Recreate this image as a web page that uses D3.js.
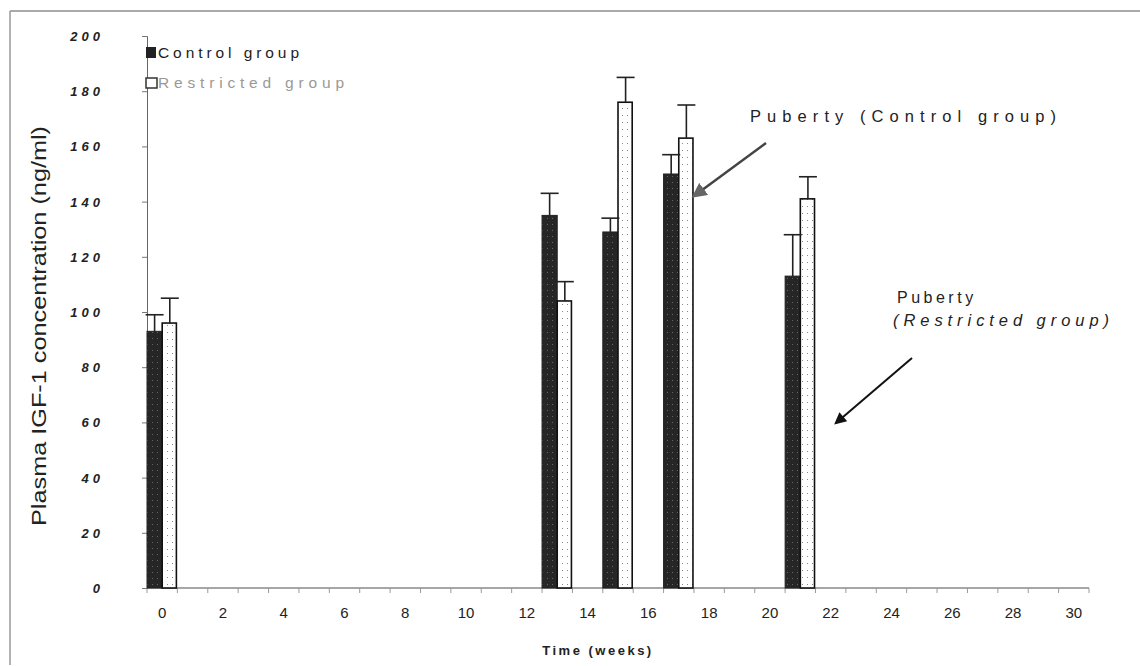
<!DOCTYPE html>
<html>
<head>
<meta charset="utf-8">
<script src="https://cdn.jsdelivr.net/npm/d3@7"></script>
<style>
  body { margin: 0; background: #fff; }
  svg { display: block; font-family: Arial, "Liberation Sans", sans-serif; }
</style>
</head>
<body>
<div id="chart"></div>
<script>
// weeks where IGF-1 was sampled
var weeks = [0, 13, 15, 17, 21];
var controlMean = [93, 135, 129, 150, 113];
var controlErr = [6, 8, 5, 7, 15];
var restrictedMean = [96, 104, 176, 163, 141];
var restrictedErr = [9, 7, 9, 12, 8];

var yTicks = [0, 20, 40, 60, 80, 100, 120, 140, 160, 180, 200];
var xLabels = d3.range(0, 31, 2);
var seriesNames = ['Control group', 'Restricted group'];

var width = 1140, height = 666;

var svg = d3.select('#chart').append('svg')
    .attr('width', width).attr('height', height);

var defs = svg.append('defs');
var pDark = defs.append('pattern').attr('id', 'dots-dark')
    .attr('width', 5).attr('height', 6).attr('patternUnits', 'userSpaceOnUse');
pDark.append('rect').attr('width', 5).attr('height', 6).attr('fill', '#262626');
pDark.append('rect').attr('x', 2).attr('y', 2).attr('width', 1).attr('height', 1).attr('fill', '#666');
var pLight = defs.append('pattern').attr('id', 'dots-light')
    .attr('width', 5).attr('height', 7).attr('patternUnits', 'userSpaceOnUse');
pLight.append('rect').attr('width', 5).attr('height', 7).attr('fill', '#fff');
pLight.append('rect').attr('x', 2).attr('y', 3).attr('width', 1).attr('height', 1).attr('fill', '#888');

// scanned page frame
svg.append('line').attr('x1', 10).attr('x2', width).attr('y1', 11).attr('y2', 11)
   .attr('stroke', '#aaa').attr('stroke-width', 2);
svg.append('line').attr('x1', 10).attr('x2', 10).attr('y1', 11).attr('y2', 665)
   .attr('stroke', '#999').attr('stroke-width', 1.5);

var x = d3.scaleBand().domain(d3.range(0, 31)).range([147, 1089]);
var y = d3.scaleLinear().domain([0, 200]).range([588, 36]);
var bw = x.bandwidth();

// y axis
var yAxis = svg.append('g').attr('transform', 'translate(147,0)')
    .call(d3.axisLeft(y).tickValues(yTicks).tickSize(5).tickFormat(''));
yAxis.select('.domain').attr('stroke', '#666');
yAxis.selectAll('.tick line').attr('stroke', '#777');
svg.append('g').selectAll('text').data(yTicks).enter().append('text')
    .attr('x', 104).attr('y', function(d) { return y(d) + 5; })
    .attr('text-anchor', 'end')
    .attr('font-size', 13).attr('font-style', 'italic').attr('font-weight', 'bold')
    .attr('letter-spacing', 4).attr('fill', '#222')
    .text(function(d) { return d; });

// x axis: category axis with tick marks on band edges
var xAxis = svg.append('g').attr('transform', 'translate(0,588)');
xAxis.append('line').attr('x1', 147).attr('x2', 1089).attr('stroke', '#888').attr('stroke-width', 1.5);
xAxis.selectAll('line.tk').data(d3.range(0, 32)).enter().append('line').attr('class', 'tk')
    .attr('x1', function(d) { return 147 + d * bw; })
    .attr('x2', function(d) { return 147 + d * bw; })
    .attr('y1', 0).attr('y2', 5).attr('stroke', '#999');
xAxis.selectAll('text').data(xLabels).enter().append('text')
    .attr('x', function(d) { return x(d) + bw / 2; })
    .attr('y', 30)
    .attr('text-anchor', 'middle').attr('font-size', 15).attr('fill', '#222')
    .text(function(d) { return d; });

// bars
var bars = svg.append('g');
weeks.forEach(function(w, i) {
    var x0 = x(w);
    var half = bw / 2;
    bars.append('rect')
        .attr('x', x0).attr('y', y(controlMean[i]))
        .attr('width', half).attr('height', y(0) - y(controlMean[i]))
        .attr('fill', 'url(#dots-dark)').attr('stroke', '#222').attr('stroke-width', 1);
    bars.append('rect')
        .attr('x', x0 + half).attr('y', y(restrictedMean[i]))
        .attr('width', half - 1).attr('height', y(0) - y(restrictedMean[i]))
        .attr('fill', 'url(#dots-light)').attr('stroke', '#111').attr('stroke-width', 1.6);

    // upward error bars
    [[x0 + half / 2, controlMean[i], controlErr[i]],
     [x0 + half * 1.5, restrictedMean[i], restrictedErr[i]]].forEach(function(e) {
        bars.append('line').attr('x1', e[0]).attr('x2', e[0])
            .attr('y1', y(e[1])).attr('y2', y(e[1] + e[2]))
            .attr('stroke', '#222').attr('stroke-width', 1.6);
        bars.append('line').attr('x1', e[0] - 9).attr('x2', e[0] + 9)
            .attr('y1', y(e[1] + e[2])).attr('y2', y(e[1] + e[2]))
            .attr('stroke', '#222').attr('stroke-width', 1.6);
    });
});

// legend
var legend = svg.append('g');
legend.append('rect').attr('x', 146).attr('y', 47).attr('width', 10).attr('height', 11)
    .attr('fill', '#222');
legend.append('rect').attr('x', 146).attr('y', 78).attr('width', 11).attr('height', 10)
    .attr('fill', '#fff').attr('stroke', '#333').attr('stroke-width', 1.5);
legend.selectAll('text').data(seriesNames).enter().append('text')
    .attr('x', 158).attr('y', function(d, i) { return 58 + i * 30; })
    .attr('font-size', 15.5)
    .attr('textLength', function(d, i) { return i === 0 ? 141 : 186; })
    .attr('lengthAdjust', 'spacing')
    .attr('fill', function(d, i) { return i === 0 ? '#222' : '#999'; })
    .text(function(d) { return d; });

// axis titles
svg.append('text')
    .attr('transform', 'translate(46,326) rotate(-90)')
    .attr('text-anchor', 'middle').attr('font-size', 20).attr('fill', '#222')
    .attr('textLength', 400).attr('lengthAdjust', 'spacingAndGlyphs')
    .text('Plasma IGF-1 concentration (ng/ml)');
svg.append('text')
    .attr('x', 598).attr('y', 655).attr('text-anchor', 'middle')
    .attr('font-size', 13).attr('font-weight', 'bold').attr('letter-spacing', 2.5)
    .attr('fill', '#222')
    .text('Time (weeks)');

// annotations
defs.append('marker').attr('id', 'arrow-grey').attr('viewBox', '0 0 10 10')
    .attr('refX', 8).attr('refY', 5).attr('markerWidth', 6).attr('markerHeight', 6)
    .attr('markerUnits', 'strokeWidth').attr('orient', 'auto')
    .append('path').attr('d', 'M0,0 L10,5 L0,10 z').attr('fill', '#666');
defs.append('marker').attr('id', 'arrow-black').attr('viewBox', '0 0 10 10')
    .attr('refX', 8).attr('refY', 5).attr('markerWidth', 8).attr('markerHeight', 6)
    .attr('markerUnits', 'strokeWidth').attr('orient', 'auto')
    .append('path').attr('d', 'M0,0 L10,5 L0,10 z').attr('fill', '#111');

svg.append('text').attr('x', 750).attr('y', 122)
    .attr('font-size', 16.5).attr('textLength', 306).attr('lengthAdjust', 'spacing')
    .attr('fill', '#222')
    .text('Puberty (Control group)');
svg.append('line').attr('x1', 766).attr('y1', 143).attr('x2', 694).attr('y2', 196)
    .attr('stroke', '#444').attr('stroke-width', 2.5).attr('marker-end', 'url(#arrow-grey)');

svg.append('text').attr('x', 897).attr('y', 303)
    .attr('font-size', 16).attr('letter-spacing', 3.5).attr('fill', '#222')
    .text('Puberty');
svg.append('text').attr('x', 893).attr('y', 326)
    .attr('font-size', 16.5).attr('font-style', 'italic')
    .attr('textLength', 216).attr('lengthAdjust', 'spacing').attr('fill', '#222')
    .text('(Restricted group)');
svg.append('line').attr('x1', 912).attr('y1', 358).attr('x2', 836).attr('y2', 423)
    .attr('stroke', '#111').attr('stroke-width', 2).attr('marker-end', 'url(#arrow-black)');
</script>
</body>
</html>
